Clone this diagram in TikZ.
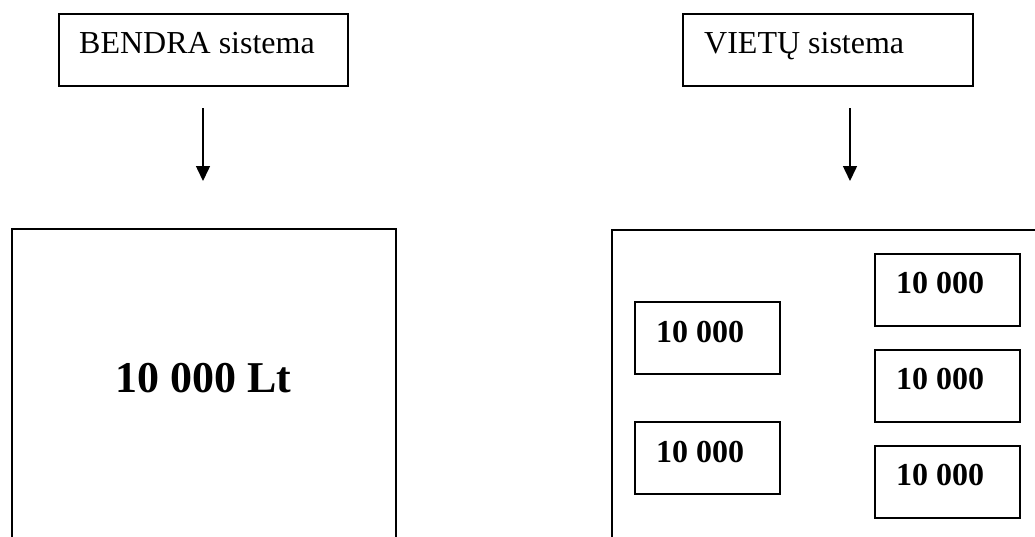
\documentclass[tikz,border=0pt]{standalone}
\usepackage{fontspec}
\setmainfont{Liberation Serif}
\usetikzlibrary{arrows.meta}
\begin{document}
\begin{tikzpicture}[x=1pt,y=-1pt,
  box/.style={draw,line width=1.5pt,inner sep=0pt,anchor=north west},
  lbl/.style={anchor=base west,inner sep=0pt,font=\fontsize{32}{38}\selectfont},
  numlbl/.style={anchor=base west,inner sep=0pt,font=\fontsize{32}{38}\selectfont\bfseries},
  arr/.style={line width=1.5pt,-{Triangle[width=14pt,length=15pt]}}]
\useasboundingbox (0,0) rectangle (1035,536);
\clip (0,0) rectangle (1035,536);
% top boxes
\node[box,minimum width=289pt,minimum height=72pt] (bendra) at (58,13) {};
\node[lbl] (bendraT) at (79,53) {BENDRA sistema};
\node[box,minimum width=290pt,minimum height=72pt] (vietu) at (682,13) {};
\node[lbl] (vietuT) at (704,53) {VIETŲ sistema};
% arrows
\coordinate (a1s) at (203,108); \coordinate (a1e) at (203,181);
\coordinate (a2s) at (850,108); \coordinate (a2e) at (850,181);
\draw[arr] (a1s) -- (a1e);
\draw[arr] (a2s) -- (a2e);
% big boxes (extend past the picture edge)
\node[box,minimum width=384pt,minimum height=340pt] (bigL) at (11,228) {};
\node[anchor=base,inner sep=0pt,font=\fontsize{44}{52}\selectfont\bfseries] (bigT) at (203,392) {10 000 Lt};
\node[box,minimum width=460pt,minimum height=340pt] (bigR) at (611,229) {};
% small boxes
\node[box,minimum width=145pt,minimum height=72pt] (s1) at (634,301) {};
\node[numlbl] (s1t) at (656,342) {10 000};
\node[box,minimum width=145pt,minimum height=72pt] (s2) at (634,421) {};
\node[numlbl] (s2t) at (656,462) {10 000};
\node[box,minimum width=145pt,minimum height=72pt] (s3) at (874,253) {};
\node[numlbl] (s3t) at (896,293) {10 000};
\node[box,minimum width=145pt,minimum height=72pt] (s4) at (874,349) {};
\node[numlbl] (s4t) at (896,389) {10 000};
\node[box,minimum width=145pt,minimum height=72pt] (s5) at (874,445) {};
\node[numlbl] (s5t) at (896,485) {10 000};
\end{tikzpicture}
\end{document}
